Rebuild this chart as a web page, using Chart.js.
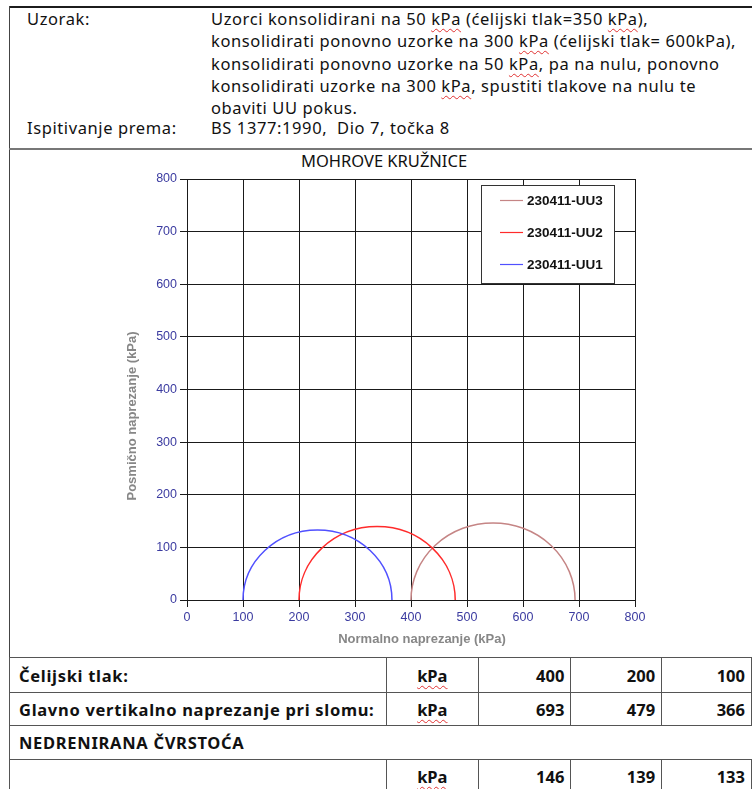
<!DOCTYPE html>
<html>
<head>
<meta charset="utf-8">
<script src="https://cdn.jsdelivr.net/npm/chart.js@4.4.0/dist/chart.umd.min.js"></script>
<style>
    html, body { margin: 0; padding: 0; background: #fff; width: 752px; height: 789px; overflow: hidden; }
    body { position: relative; font-family: "Noto Sans", "DejaVu Sans", sans-serif; color: #111; }
    .abs { position: absolute; }
    .sp { text-decoration: underline wavy #e03030; text-decoration-thickness: 1px; text-underline-offset: 3px; }
    .hline { position: absolute; left: 9px; width: 760px; }
    .head { font-size: 16.5px; letter-spacing: 0.6px; line-height: 22.3px; white-space: nowrap; }
    #title { left: 10px; width: 748px; top: 150px; text-align: center; font-size: 16.5px; line-height: 22px; }
    #chartBox { left: 10px; top: 150px; width: 742px; height: 500px; }
    #tbl { position: absolute; left: 9px; top: 657px; border-collapse: collapse; table-layout: fixed; font-size: 16.5px; font-weight: bold; }
    #tbl td { border: 1px solid #555; padding: 0 9px; white-space: nowrap; overflow: hidden; }
    #tbl td.lbl { letter-spacing: 0.7px; }
    #tbl td.c { text-align: center; }
    #tbl td.n { text-align: right; padding-right: 6px; }
    #tbl td.span { border-left: 1px solid #555; border-right: none; letter-spacing: 0.7px; }
</style>
</head>
<body>

<div class="hline" style="top:6px;height:2px;background:#1c1c1c;"></div>
<div class="abs" style="left:9px;top:6px;width:1px;height:790px;background:#444;"></div>
<div class="hline" style="top:148px;height:2px;background:#777;"></div>

<div class="abs head" style="left:27px;top:8px;">Uzorak:</div>
<div class="abs head" style="left:211px;top:8px;">
    Uzorci konsolidirani na 50 <span class="sp">kPa</span> (ćelijski tlak=350 <span class="sp">kPa</span>),<br>
    konsolidirati ponovno uzorke na 300 <span class="sp">kPa</span> (ćelijski tlak= 600kPa),<br>
    konsolidirati ponovno uzorke na 50 <span class="sp">kPa</span>, pa na nulu, ponovno<br>
    konsolidirati uzorke na 300 <span class="sp">kPa</span>, spustiti tlakove na nulu te<br>
    obaviti UU pokus.
</div>
<div class="abs head" style="left:27px;top:117px;">Ispitivanje prema:</div>
<div class="abs head" style="left:211px;top:117px;">BS 1377:1990,&nbsp; Dio 7, točka 8</div>

<div id="title" class="abs">MOHROVE KRUŽNICE</div>
<div id="chartBox" class="abs"><canvas id="mohrChart"></canvas></div>

<table id="tbl">
    <colgroup>
        <col style="width:377px"><col style="width:94px"><col style="width:95px"><col style="width:93px"><col style="width:92px">
    </colgroup>
    <tr style="height:35px" id="rowCell"></tr>
    <tr style="height:33px" id="rowFail"></tr>
    <tr style="height:34px"><td class="span" colspan="5">NEDRENIRANA ČVRSTOĆA</td></tr>
    <tr style="height:34px" id="rowStrength"></tr>
</table>

<script>
const samples = ["230411-UU3", "230411-UU2", "230411-UU1"];
const cellPressure = [400, 200, 100];
const failureStress = [693, 479, 366];
const undrainedStrength = [146, 139, 133];
const sampleColors = ["#c58585", "#ff2b2b", "#5050ff"];

const axisMin = 0;
const axisMax = 800;
const axisStep = 100;

const tickColor = "#3b3ba0";
const titleColor = "#878787";

function fillRow(id, label, values) {
    const tr = document.getElementById(id);
    let html = `<td class="lbl">${label}</td><td class="c"><span class="sp">kPa</span></td>`;
    values.forEach(v => { html += `<td class="n">${v}</td>`; });
    tr.innerHTML = html;
}

fillRow("rowCell", "Čelijski tlak:", cellPressure);
fillRow("rowFail", "Glavno vertikalno naprezanje pri slomu:", failureStress);
fillRow("rowStrength", "", undrainedStrength);

// each circle: sigma3 and sigma1 on the x axis, drawn as a half ellipse through the scales
const mohrCircles = {
    id: "mohrCircles",
    afterDatasetsDraw(chart) {
        const { ctx, chartArea, scales: { x, y } } = chart;
        ctx.save();
        ctx.beginPath();
        ctx.rect(chartArea.left, chartArea.top, chartArea.width, chartArea.height);
        ctx.clip();
        chart.data.datasets.forEach(ds => {
            const [a, b] = ds.data;
            const centre = (a.x + b.x) / 2;
            const radius = (b.x - a.x) / 2;
            const cx = x.getPixelForValue(centre);
            const rx = x.getPixelForValue(b.x) - cx;
            const y0 = y.getPixelForValue(0);
            const ry = y0 - y.getPixelForValue(radius);
            ctx.beginPath();
            ctx.ellipse(cx, y0, rx, ry, 0, Math.PI, 2 * Math.PI);
            ctx.strokeStyle = ds.borderColor;
            ctx.lineWidth = 1.5;
            ctx.stroke();
        });
        ctx.restore();
    },
};

const boxLegend = {
    id: "boxLegend",
    afterDraw(chart) {
        const { ctx, chartArea } = chart;
        const left = chartArea.left + 294;
        const right = chartArea.right - 21;
        const top = chartArea.top + 6;
        const bottom = chartArea.top + 104;
        ctx.save();
        ctx.fillStyle = "#fff";
        ctx.fillRect(left, top, right - left, bottom - top);
        ctx.strokeStyle = "#333";
        ctx.lineWidth = 1;
        ctx.strokeRect(left + 0.5, top + 0.5, right - left, bottom - top);
        ctx.font = "bold 13.5px 'Liberation Sans', Arial, sans-serif";
        ctx.textBaseline = "middle";
        chart.data.datasets.forEach((ds, i) => {
            const rowY = top + 15.5 + i * 32;
            ctx.strokeStyle = ds.borderColor;
            ctx.lineWidth = 1.2;
            ctx.beginPath();
            ctx.moveTo(left + 19, rowY);
            ctx.lineTo(left + 42, rowY);
            ctx.stroke();
            ctx.fillStyle = "#111";
            ctx.fillText(ds.label, left + 46, rowY + 0.5);
        });
        ctx.restore();
    },
};

const axisTitles = {
    id: "axisTitles",
    afterDraw(chart) {
        const { ctx, chartArea } = chart;
        ctx.save();
        ctx.font = "bold 13px 'Liberation Sans', Arial, sans-serif";
        ctx.fillStyle = titleColor;
        ctx.textAlign = "center";
        ctx.textBaseline = "middle";
        ctx.fillText("Normalno naprezanje (kPa)", chartArea.left + 235, chartArea.bottom + 39);
        ctx.translate(chartArea.left - 55, chartArea.bottom - 184);
        ctx.rotate(-Math.PI / 2);
        ctx.fillText("Posmično naprezanje (kPa)", 0, 0);
        ctx.restore();
    },
};

function renderChart() {
    const datasets = samples.map((name, i) => ({
        label: name,
        data: [
            { x: cellPressure[i], y: 0 },
            { x: failureStress[i], y: 0 },
        ],
        borderColor: sampleColors[i],
        backgroundColor: sampleColors[i],
        showLine: false,
        pointRadius: 0,
    }));

    const axisTicks = {
        stepSize: axisStep,
        color: tickColor,
        font: { family: "'Liberation Sans', Arial, sans-serif", size: 12.5 },
        padding: 3,
    };
    const axisGrid = { color: "#1a1a1a", lineWidth: 1, tickLength: 7, drawTicks: true };

    new Chart(document.getElementById("mohrChart"), {
        type: "scatter",
        data: { datasets },
        options: {
            responsive: false,
            animation: false,
            devicePixelRatio: 1,
            layout: { padding: { left: 0, right: 117, top: 29, bottom: 0 } },
            plugins: {
                legend: { display: false },
                tooltip: { enabled: false },
            },
            scales: {
                x: {
                    type: "linear",
                    min: axisMin,
                    max: axisMax,
                    ticks: axisTicks,
                    grid: axisGrid,
                    border: { color: "#1a1a1a" },
                    afterFit: (s) => { s.height = 50; },
                },
                y: {
                    type: "linear",
                    min: axisMin,
                    max: axisMax,
                    ticks: axisTicks,
                    grid: axisGrid,
                    border: { color: "#1a1a1a" },
                    afterFit: (s) => { s.width = 177; },
                },
            },
        },
        plugins: [mohrCircles, boxLegend, axisTitles],
    });
}

const cv = document.getElementById("mohrChart");
cv.width = 742;
cv.height = 500;
cv.style.width = "742px";
cv.style.height = "500px";

document.addEventListener("DOMContentLoaded", () => {
    renderChart();
});
</script>
</body>
</html>
